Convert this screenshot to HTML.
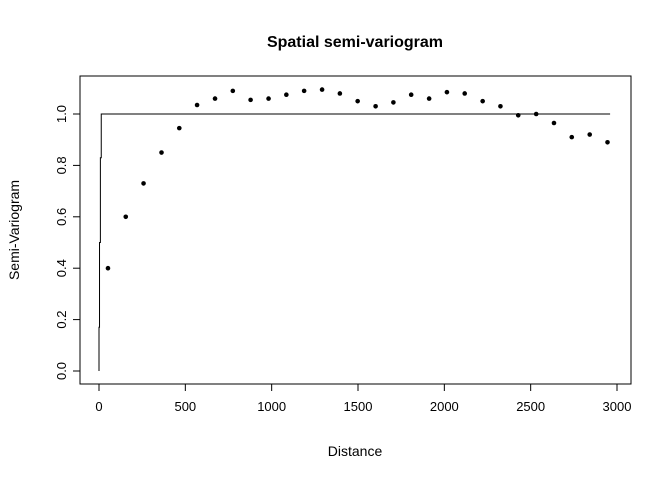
<!DOCTYPE html>
<html><head><meta charset="utf-8"><style>
body{margin:0;background:#fff}
svg{display:block;font-family:"Liberation Sans",Arial,sans-serif}
</style></head><body>
<svg id="chart" width="672" height="480">
<text x="355" y="47" text-anchor="middle" font-size="16" font-weight="bold">Spatial semi-variogram</text>
<rect x="80" y="76" width="551" height="308" fill="none" stroke="#000"/>
<g id="xaxis"></g>
<g id="yaxis"></g>
<text x="355" y="456" text-anchor="middle" font-size="14">Distance</text>
<text transform="translate(19,230) rotate(-90)" text-anchor="middle" font-size="14">Semi-Variogram</text>
<g id="series"></g>
</svg>
<script>
const xTicks=[0,500,1000,1500,2000,2500,3000];
const yTicks=[0.0,0.2,0.4,0.6,0.8,1.0];
const yTickLabels=["0.0","0.2","0.4","0.6","0.8","1.0"];
const distances=[52,155,258,362,465,568,672,775,878,982,1085,1188,1292,1395,1498,1602,1705,1808,1912,2015,2118,2222,2325,2428,2532,2635,2738,2842,2945];
const gamma=[0.40,0.60,0.73,0.85,0.945,1.035,1.06,1.09,1.055,1.06,1.075,1.09,1.095,1.08,1.05,1.03,1.045,1.075,1.06,1.085,1.08,1.05,1.03,0.995,1.0,0.965,0.91,0.92,0.89];
const modelX=[0,0,3,3,8,8,13,13,18,2960];
const modelY=[0,0.17,0.17,0.5,0.5,0.83,0.83,1.0,1.0,1.0];

const NS="http://www.w3.org/2000/svg";
const sx=v=>99+v*(617-99)/3000;
const sy=v=>371-v*257;
function mk(tag,attrs,parent,txt){const e=document.createElementNS(NS,tag);for(const k in attrs)e.setAttribute(k,attrs[k]);if(txt!==undefined)e.textContent=txt;parent.appendChild(e);return e;}
const xa=document.getElementById('xaxis'),ya=document.getElementById('yaxis'),sr=document.getElementById('series');
mk('line',{x1:sx(xTicks[0]),x2:sx(xTicks[xTicks.length-1]),y1:384,y2:384,stroke:'#000'},xa);
xTicks.forEach(t=>{
  mk('line',{x1:sx(t),x2:sx(t),y1:384,y2:391,stroke:'#000'},xa);
  const tx=mk('text',{x:sx(t),y:411,'text-anchor':'middle','font-size':13},xa,String(t));
  
  
});
mk('line',{x1:80,x2:80,y1:sy(yTicks[0]),y2:sy(yTicks[yTicks.length-1]),stroke:'#000'},ya);
yTicks.forEach((t,i)=>{
  mk('line',{x1:73,x2:80,y1:sy(t),y2:sy(t),stroke:'#000'},ya);
  const tx=mk('text',{transform:`translate(66,${sy(t)}) rotate(-90)`,'text-anchor':'middle','font-size':13},ya,yTickLabels[i]);
  
  
});
const pts=modelX.map((h,i)=>sx(h)+','+sy(modelY[i])).join(' ');
const ln=mk('polyline',{points:pts,fill:'none',stroke:'#000','stroke-width':1},sr);


distances.forEach((d,i)=>{
  const c=mk('circle',{cx:sx(d),cy:sy(gamma[i]),r:2.3,fill:'#000'},sr);
  
  
});
</script>
</body></html>
